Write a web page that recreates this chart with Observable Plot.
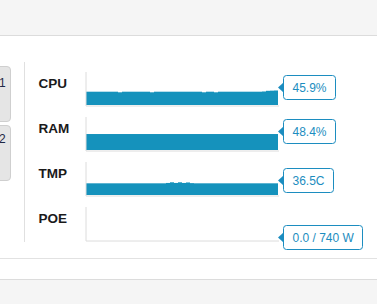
<!DOCTYPE html>
<html><head><meta charset="utf-8">
<script src="https://cdn.jsdelivr.net/npm/d3@7"></script>
<script src="https://cdn.jsdelivr.net/npm/@observablehq/plot@0.6"></script>
<style>
html,body{margin:0;padding:0;background:#fff;}
body{position:relative;width:377px;height:304px;overflow:hidden;font-family:"Liberation Sans",Arial,sans-serif;}
.topbar{position:absolute;left:0;top:0;width:377px;height:35px;background:#f5f5f5;border-bottom:1px solid #dcdcdc;}
.sep{position:absolute;left:0;top:258px;width:377px;height:1px;background:#e2e2e2;}
.footer{position:absolute;left:0;top:279px;width:377px;height:25px;background:#f5f5f5;border-top:1px solid #dcdcdc;}
.btn{position:absolute;left:-19px;width:30px;box-sizing:border-box;background:#e5e5e5;border:1px solid #cfcfcf;border-radius:4px;}
.num{position:absolute;font-size:12px;line-height:12px;color:#1e2846;}
.divider{position:absolute;left:24px;top:62px;width:1px;height:180px;background:#e0e0e0;}
#chart{position:absolute;left:0;top:0;}
</style>
</head><body>
<div class="topbar"></div>
<div class="btn" style="top:66px;height:56px;"></div>
<div class="btn" style="top:125px;height:56px;"></div>
<span class="num" style="left:-1px;top:77px;">1</span>
<span class="num" style="left:-1px;top:133px;">2</span>
<div class="divider"></div>
<div class="sep"></div>
<div class="footer"></div>
<div id="chart"></div>
<script>
const metrics = ["CPU", "RAM", "TMP", "POE"];
const scaleMax = [100, 100, 100, 740];
const currentValues = [45.9, 48.4, 36.5, 0.0];
const valueLabels = ["45.9%", "48.4%", "36.5C", "0.0 / 740 W"];

const cpuHistory = [40.3, 40.3, 40.3, 40.3, 40.3, 40.3, 40.3, 40.3, 38.5, 40.3, 40.3, 40.3,
  40.3, 40.3, 40.3, 40.3, 38.5, 40.3, 40.3, 40.3, 40.3, 40.3, 40.3, 40.3,
  40.3, 40.3, 40.3, 40.3, 40.3, 38.5, 40.3, 40.3, 38.5, 40.3, 40.3, 40.3,
  40.3, 40.3, 40.3, 40.3, 40.3, 40.3, 40.3, 40.3, 41.0, 43.0, 43.5, 44.0];
const ramHistory = [48.4, 48.4, 48.4, 48.4, 48.4, 48.4, 48.4, 48.4, 48.4, 48.4, 48.4, 48.4,
  48.4, 48.4, 48.4, 48.4, 48.4, 48.4, 48.4, 48.4, 48.4, 48.4, 48.4, 48.4,
  48.4, 48.4, 48.4, 48.4, 48.4, 48.4, 48.4, 48.4, 48.4, 48.4, 48.4, 48.4,
  48.4, 48.4, 48.4, 48.4, 48.4, 48.4, 48.4, 48.4, 48.4, 48.4, 48.4, 48.4];
const tmpHistory = [35.4, 35.4, 35.4, 35.4, 35.4, 35.4, 35.4, 35.4, 35.4, 35.4, 35.4, 35.4,
  35.4, 35.4, 35.4, 35.4, 35.4, 35.4, 35.4, 35.4, 36.5, 38.5, 36.5, 38.5,
  36.5, 38.0, 36.0, 35.4, 35.4, 35.4, 35.4, 35.4, 35.4, 35.4, 35.4, 35.4,
  35.4, 35.4, 35.4, 35.4, 35.4, 35.4, 35.4, 35.4, 35.4, 35.4, 35.4, 35.4];
const poeHistory = [0, 0, 0, 0, 0, 0, 0, 0, 0, 0, 0, 0,
  0, 0, 0, 0, 0, 0, 0, 0, 0, 0, 0, 0,
  0, 0, 0, 0, 0, 0, 0, 0, 0, 0, 0, 0,
  0, 0, 0, 0, 0, 0, 0, 0, 0, 0, 0, 0];

const histories = [cpuHistory, ramHistory, tmpHistory, poeHistory];
const N = cpuHistory.length;
const samples = metrics.flatMap((m, k) =>
  histories[k].map((v, i) => ({metric: m, i, pct: 100 * v / scaleMax[k]})));
const current = metrics.map((m, k) =>
  ({metric: m, pct: 100 * currentValues[k] / scaleMax[k], label: valueLabels[k]}));

const BLUE = "#1592bc";
const CALL = "#1c8dc0";

const measureCtx = document.createElement("canvas").getContext("2d");
measureCtx.font = "12px 'Liberation Sans', Arial, sans-serif";

function calloutBoxes(index, scales, values, dimensions, context) {
  const ns = "http://www.w3.org/2000/svg";
  const g = context.document.createElementNS(ns, "g");
  for (const i of index) {
    const px = Math.round(values.x[i]);
    const py = Math.round(values.y[i] - 3) + 0.5;
    const w = Math.round(measureCtx.measureText(current[i].label).width) + 18;
    const h = 24, m = 5;
    const x0 = px + 5.5, y0 = py - h / 2;
    const rect = context.document.createElementNS(ns, "rect");
    rect.setAttribute("x", x0); rect.setAttribute("y", y0);
    rect.setAttribute("width", w); rect.setAttribute("height", h);
    rect.setAttribute("rx", 3); rect.setAttribute("fill", "#fff");
    rect.setAttribute("stroke", CALL); rect.setAttribute("stroke-width", 1);
    const tri = context.document.createElementNS(ns, "path");
    tri.setAttribute("d", `M${px},${py}L${x0},${py - m}L${x0},${py + m}Z`);
    tri.setAttribute("fill", CALL);
    g.appendChild(rect); g.appendChild(tri);
  }
  return g;
}

const chart = Plot.plot({
  width: 377, height: 250,
  marginLeft: 86, marginRight: 99, marginTop: 72, marginBottom: 10,
  style: {background: "transparent", overflow: "visible"},
  x: {domain: [0, N], axis: null},
  y: {domain: [0, 100], axis: null},
  fy: {domain: metrics, axis: null, label: null, paddingInner: 12 / 45, paddingOuter: 0},
  marks: [
    Plot.rect(samples, {fy: "metric", x1: "i", x2: d => d.i + 1, y1: 0, y2: "pct", fill: BLUE}),
    Plot.frame({anchor: "left", stroke: "#dcdcdc", dx: -0.5}),
    Plot.frame({anchor: "bottom", stroke: "#dcdcdc", dy: 0.5}),
    Plot.text(metrics, {fy: d => d, text: d => d, frameAnchor: "top-left", textAnchor: "start",
      lineAnchor: "bottom", dx: -48, dy: 15.5, fontWeight: "bold", fontSize: 13.5, fill: "#1a1a1a",
      fontFamily: "'Liberation Sans', Arial, sans-serif"}),
    Plot.text(current, {fy: "metric", x: () => N, y: "pct", text: "label", render: calloutBoxes}),
    Plot.text(current, {fy: "metric", x: () => N, y: "pct", text: "label", textAnchor: "start",
      dx: 14, dy: -2, fontSize: 12, fill: CALL, fontFamily: "'Liberation Sans', Arial, sans-serif"})
  ]
});
document.getElementById("chart").appendChild(chart);
</script>
</body></html>
